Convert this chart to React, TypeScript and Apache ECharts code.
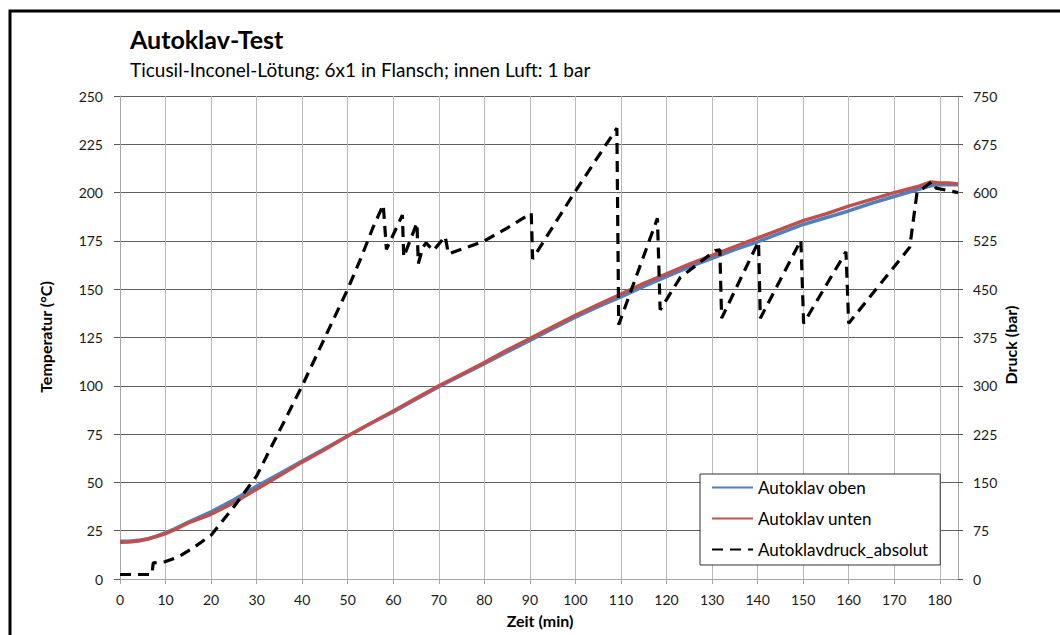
import React, { useEffect, useRef } from "react";
import * as echarts from "echarts";

// Time axis (minutes) for both temperature probes
const timeMin = [0, 2, 4, 6, 8, 10, 12, 15, 20, 25, 30, 35, 40, 45, 50, 55, 60, 65, 70, 75, 80, 85, 90, 95, 100, 105, 110, 115, 120, 125, 130, 135, 140, 145, 150, 155, 160, 165, 170, 175, 178, 180, 182, 184];
// Temperature, upper probe (°C)
const tempOben = [19.5, 19.6, 20, 20.8, 22.2, 24, 26, 29.5, 34.8, 41, 48, 54.5, 61, 67.5, 74, 80.5, 86.5, 93, 99.5, 105.5, 111.5, 117.5, 123.5, 129.5, 135.5, 141, 146, 151.5, 156.5, 161.5, 166, 170.5, 174.5, 179, 183.5, 187, 190.5, 194.5, 198, 201.5, 203.5, 204, 204, 204];
// Temperature, lower probe (°C)
const tempUnten = [19, 19.2, 19.7, 20.5, 22, 23.5, 25.5, 29, 33.5, 39.5, 46.5, 53.5, 60.5, 67, 74, 80.5, 87, 93.5, 100, 106, 112, 118.5, 124.5, 130.5, 136.5, 142, 147.5, 153, 158, 163, 167.5, 172, 176.5, 181, 185.5, 189, 193, 196.5, 200, 203, 205.5, 205, 205, 204.5];

// Absolute autoclave pressure (bar) against its own time stamps (minutes)
const druckTime = [0, 7, 7.3, 10, 13, 16, 20, 25, 30, 35, 40, 45, 50, 53, 55.5, 57.8, 58.5, 62.0, 62.3, 65.2, 65.5, 66.5, 67.2, 68.8, 71.4, 72.1, 75, 80, 85, 90.3, 90.6, 99.6, 109.1, 109.5, 118.0, 118.6, 123, 130.7, 131.7, 132.1, 140.2, 140.6, 149.5, 150.1, 159.4, 160.0, 173.4, 175.0, 178.3, 179.2, 184];
const druckBar = [7, 7, 25, 27, 35, 48, 68, 112, 160, 230, 300, 375, 450, 500, 545, 581, 512, 565, 500, 553, 490, 515, 522, 510, 532, 505, 512, 525, 545, 568, 497, 598, 700, 395, 560, 418, 468, 510, 511, 405, 524, 405, 526, 397, 508, 397, 515, 600, 617, 607, 600];

const FONT = "Lato, 'Open Sans', sans-serif";
const TEXT = "#1a1a1a";

export default function App() {
  const ref = useRef<HTMLDivElement>(null);

  useEffect(() => {
    document.body.style.margin = "0";
    const chart = echarts.init(ref.current!, null, { renderer: "svg" });

    chart.setOption({
      animation: false,
      backgroundColor: "#fff",
      textStyle: { fontFamily: FONT },
      grid: { left: 120, right: 102, top: 96, bottom: 56 },
      xAxis: {
        type: "value",
        min: 0,
        max: 184,
        interval: 10,
        axisLine: { show: true, lineStyle: { color: "#a6a6a6", width: 1 } },
        axisTick: { show: true, length: 5, lineStyle: { color: "#a6a6a6" } },
        axisLabel: { fontSize: 14, color: TEXT, margin: 13, fontFamily: FONT, showMaxLabel: false },
        splitLine: { show: true, lineStyle: { color: "#b8b8b8", width: 1 } },
      },
      yAxis: [
        {
          type: "value",
          min: 0,
          max: 250,
          interval: 25,
          axisLine: { show: true, lineStyle: { color: "#a6a6a6", width: 1 } },
          axisTick: { show: true, length: 6, lineStyle: { color: "#595959" } },
          axisLabel: { fontSize: 14, color: TEXT, margin: 17, fontFamily: FONT },
          splitLine: { show: true, lineStyle: { color: "#5f5f5f", width: 1 } },
        },
        {
          type: "value",
          min: 0,
          max: 750,
          interval: 75,
          position: "right",
          axisLine: { show: true, lineStyle: { color: "#a6a6a6", width: 1 } },
          axisTick: { show: true, length: 5, lineStyle: { color: "#595959" } },
          axisLabel: { fontSize: 14, color: TEXT, margin: 15, fontFamily: FONT },
          splitLine: { show: false },
        },
      ],
      legend: {
        left: 700,
        top: 474,
        orient: "vertical",
        backgroundColor: "#fff",
        borderColor: "#333",
        borderWidth: 1,
        borderRadius: 0,
        padding: [5, 12, 7, 11],
        itemWidth: 41,
        itemHeight: 20,
        itemGap: 14,
        itemStyle: { opacity: 0 },
        textStyle: { fontSize: 17, color: "#000", fontFamily: FONT },
        data: ["Autoklav oben", "Autoklav unten", "Autoklavdruck_absolut"],
      },
      series: [
        {
          name: "Autoklav oben",
          type: "line",
          symbol: "none",
          yAxisIndex: 0,
          data: timeMin.map((t, i) => [t, tempOben[i]]),
          lineStyle: { color: "#4f81bd", width: 3.5 },
          itemStyle: { color: "#4f81bd" },
        },
        {
          name: "Autoklav unten",
          type: "line",
          symbol: "none",
          yAxisIndex: 0,
          data: timeMin.map((t, i) => [t, tempUnten[i]]),
          lineStyle: { color: "#c0504d", width: 3.5 },
          itemStyle: { color: "#c0504d" },
        },
        {
          name: "Autoklavdruck_absolut",
          type: "line",
          symbol: "none",
          yAxisIndex: 1,
          data: druckTime.map((t, i) => [t, druckBar[i]]),
          lineStyle: { color: "#000", width: 3.2, type: [11, 7] },
          itemStyle: { color: "#000" },
        },
      ],
      graphic: [
        {
          type: "rect",
          silent: true,
          shape: { x: 10, y: 11, width: 1100, height: 700 },
          style: { fill: "none", stroke: "#000", lineWidth: 3 },
        },
        {
          type: "text",
          x: 130,
          y: 26,
          style: { text: "Autoklav-Test", font: `bold 25px ${FONT}`, fill: "#000" },
        },
        {
          type: "text",
          x: 130,
          y: 60,
          style: { text: "Ticusil-Inconel-Lötung: 6x1 in Flansch; innen Luft: 1 bar", font: `19px ${FONT}`, fill: "#000" },
        },
        {
          type: "text",
          x: 45,
          y: 337,
          rotation: Math.PI / 2,
          style: { text: "Temperatur (°C)", font: `bold 16px ${FONT}`, fill: "#000", align: "center", verticalAlign: "middle" },
        },
        {
          type: "text",
          x: 1010,
          y: 345,
          rotation: Math.PI / 2,
          style: { text: "Druck (bar)", font: `bold 16px ${FONT}`, fill: "#000", align: "center", verticalAlign: "middle" },
        },
        {
          type: "text",
          x: 540,
          y: 620,
          style: { text: "Zeit (min)", font: `bold 16px ${FONT}`, fill: "#000", align: "center", verticalAlign: "middle" },
        },
      ],
    });

    return () => chart.dispose();
  }, []);

  return <div ref={ref} style={{ width: 1060, height: 635 }} />;
}
